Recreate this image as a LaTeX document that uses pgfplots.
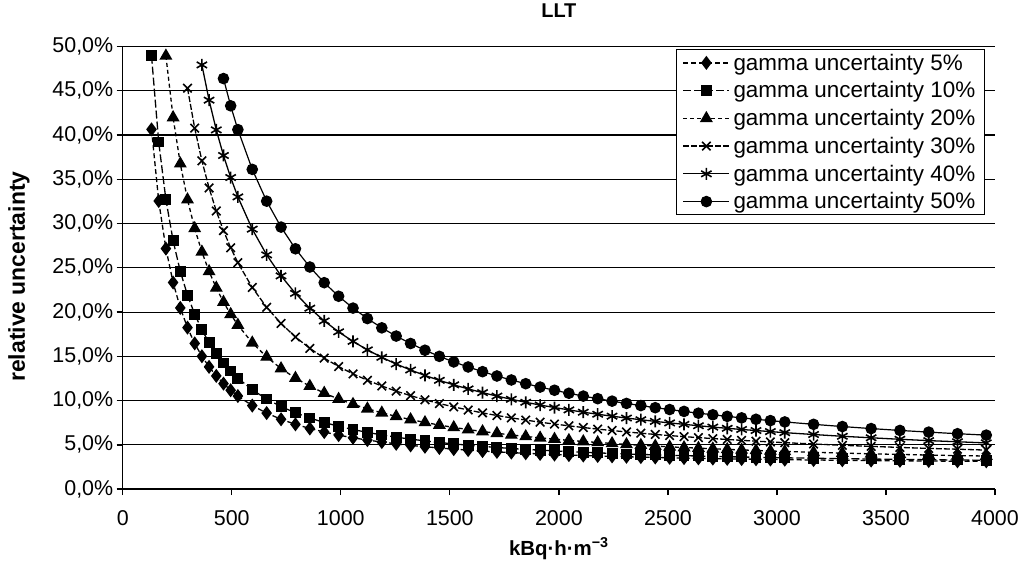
\documentclass[border=0pt]{standalone}
\usepackage{fontspec}
\setmainfont{Liberation Sans}
\usepackage{pgfplots}
\pgfplotsset{compat=1.18}
\usepackage{pgfplotstable}

\pgfplotstableread{
x g5 g10 g20 g30 g40 g50
132 40.64 48.96 nan nan nan nan
165 32.55 39.21 nan nan nan nan
198 27.17 32.71 48.94 nan nan nan
231 23.34 28.07 41.98 nan nan nan
264 20.47 24.60 36.76 nan nan nan
297 18.24 21.91 32.70 45.29 nan nan
330 16.46 19.76 29.45 40.78 nan nan
363 15.01 18.00 26.80 37.09 47.92 nan
396 13.81 16.54 24.59 34.02 43.94 nan
429 12.79 15.30 22.73 31.42 40.58 nan
462 11.92 14.25 21.13 29.20 37.69 46.38
495 11.17 13.34 19.75 27.27 35.20 43.30
528 10.52 12.54 18.54 25.58 33.01 40.61
594 9.44 11.22 16.53 22.78 29.37 36.12
660 8.59 10.18 14.93 20.54 26.46 32.53
726 7.89 9.33 13.62 18.71 24.09 29.60
792 7.32 8.62 12.54 17.19 22.11 27.15
858 6.85 8.03 11.63 15.90 20.44 25.09
924 6.45 7.53 10.85 14.80 19.00 23.32
990 6.10 7.10 10.17 13.85 17.77 21.79
1056 5.80 6.73 9.59 13.02 16.69 20.45
1122 5.54 6.41 9.08 12.30 15.73 19.27
1188 5.32 6.12 8.62 11.65 14.89 18.22
1254 5.12 5.87 8.22 11.07 14.13 17.29
1320 4.94 5.65 7.86 10.56 13.46 16.45
1386 4.79 5.45 7.53 10.09 12.84 15.69
1452 4.65 5.27 7.24 9.67 12.29 15.00
1518 4.52 5.11 6.97 9.29 11.78 14.37
1584 4.41 4.96 6.73 8.94 11.32 13.80
1650 4.30 4.83 6.51 8.61 10.90 13.27
1716 4.21 4.71 6.31 8.32 10.51 12.78
1782 4.13 4.59 6.12 8.05 10.15 12.33
1848 4.05 4.49 5.95 7.80 9.81 11.91
1914 3.98 4.40 5.79 7.56 9.50 11.53
1980 3.91 4.32 5.65 7.35 9.22 11.17
2046 3.85 4.24 5.51 7.15 8.95 10.83
2112 3.80 4.16 5.38 6.96 8.69 10.51
2178 3.75 4.10 5.27 6.78 8.46 10.22
2244 3.70 4.03 5.16 6.62 8.24 9.94
2310 3.66 3.97 5.05 6.46 8.03 9.68
2376 3.62 3.92 4.96 6.32 7.84 9.44
2442 3.58 3.87 4.87 6.18 7.65 9.20
2508 3.54 3.82 4.78 6.05 7.48 8.99
2574 3.51 3.78 4.70 5.93 7.32 8.78
2640 3.48 3.74 4.63 5.82 7.16 8.58
2706 3.45 3.70 4.56 5.71 7.01 8.40
2772 3.42 3.66 4.49 5.61 6.87 8.22
2838 3.40 3.63 4.43 5.51 6.74 8.05
2904 3.38 3.60 4.37 5.42 6.62 7.89
2970 3.35 3.57 4.31 5.33 6.50 7.74
3036 3.33 3.54 4.26 5.25 6.38 7.59
3168 3.29 3.49 4.16 5.10 6.17 7.32
3300 3.26 3.44 4.07 4.95 5.97 7.07
3432 3.23 3.40 3.99 4.83 5.80 6.84
3564 3.20 3.36 3.92 4.71 5.63 6.63
3696 3.18 3.32 3.85 4.60 5.48 6.44
3828 3.15 3.29 3.79 4.51 5.35 6.26
3960 3.14 3.26 3.74 4.41 5.22 6.10
}\datatable

\begin{document}
\begin{tikzpicture}
\begin{axis}[
  name=ax,
  width=872bp, height=442.5bp, scale only axis,
  xmin=0, xmax=4000, ymin=0, ymax=50,
  xtick={0,500,...,4000}, ytick={0,5,...,50},
  axis x line*=bottom, axis y line*=left,
  axis line style={line width=1.4bp},
  tick align=outside, major tick length=6bp,
  every tick/.style={black, line width=1.3bp},
  ymajorgrids, grid style={black, line width=1.1bp},
  /pgf/number format/assume math mode=true,
  ticklabel style={font=\fontsize{21.5}{25}\selectfont},
  xticklabel style={yshift=-12bp},
  xticklabel={\pgfmathprintnumber[fixed,1000 sep={}]{\tick}},
  yticklabel={\pgfmathprintnumber[fixed,fixed zerofill,precision=1,use comma]{\tick}\%},
  title={LLT},
  title style={font=\bfseries\fontsize{20}{24}\selectfont, at={(axis description cs:0.5,1.052)}, anchor=base},
  xlabel={kBq·h·m\textsuperscript{−3}},
  xlabel style={font=\bfseries\fontsize{20.5}{24}\selectfont, at={(axis description cs:0.5,-0.149)}, anchor=base},
  ylabel={relative uncertainty},
  ylabel style={font=\bfseries\fontsize{23}{27}\selectfont, at={(axis description cs:-0.1066,0.48)}, anchor=south, inner sep=0pt},
  legend style={at={(axis description cs:0.9889,0.9944)}, anchor=north east, draw=black, line width=1bp, fill=white,
    font=\fontsize{22.5}{24}\selectfont, nodes={inner xsep=3.5bp, inner ysep=1bp}, row sep=8bp, inner xsep=6bp, inner ysep=3.5bp},
  legend cell align=left,
  legend image code/.code={\draw[mark repeat=2,mark phase=2,#1] plot coordinates {(0bp,0bp) (23bp,0bp) (46bp,0bp)};},
]
\addplot[black, line width=1.3bp, dash pattern=on 5bp off 3bp, mark=diamond*, mark size=6bp, mark options={solid, fill=black}] table[x=x,y=g5]{\datatable};
\addlegendentry{gamma uncertainty 5\%}
\addplot[black, line width=1.3bp, dash pattern=on 8bp off 3bp, mark=square*, mark size=4.8bp, mark options={solid, fill=black}] table[x=x,y=g10]{\datatable};
\addlegendentry{gamma uncertainty 10\%}
\addplot[black, line width=1.3bp, dash pattern=on 4bp off 3bp, mark=triangle*, mark size=6.2bp, mark options={solid, fill=black}] table[x=x,y=g20]{\datatable};
\addlegendentry{gamma uncertainty 20\%}
\addplot[black, line width=1.3bp, dash pattern=on 6bp off 2bp, mark=x, mark size=6bp, mark options={solid, line width=1.6bp}] table[x=x,y=g30]{\datatable};
\addlegendentry{gamma uncertainty 30\%}
\addplot[black, line width=1.3bp, mark=asterisk, mark size=6bp, mark options={solid, line width=1.6bp}] table[x=x,y=g40]{\datatable};
\addlegendentry{gamma uncertainty 40\%}
\addplot[black, line width=1.2bp, mark=*, mark size=5.2bp, mark options={solid, fill=black}] table[x=x,y=g50]{\datatable};
\addlegendentry{gamma uncertainty 50\%}
\end{axis}
\pgfresetboundingbox
\path ([shift={(-122.7bp,-76bp)}]ax.south west) rectangle ([shift={(30bp,46.5bp)}]ax.north east);
\end{tikzpicture}
\end{document}
